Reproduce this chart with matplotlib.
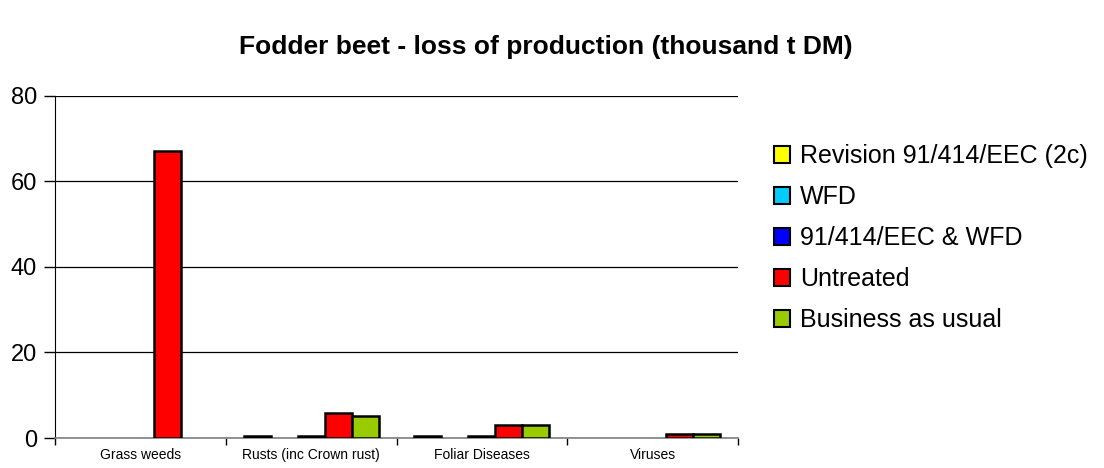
import matplotlib.pyplot as plt
import numpy as np
from matplotlib.patches import Patch

plt.rcParams["font.family"] = ["Liberation Sans", "DejaVu Sans"]

categories = ["Grass weeds", "Rusts (inc Crown rust)", "Foliar Diseases", "Viruses"]
series_names = [
    "Revision 91/414/EEC (2c)",
    "WFD",
    "91/414/EEC & WFD",
    "Untreated",
    "Business as usual",
]
series_colors = ["#FFFF00", "#00CCFF", "#0000FF", "#FF0000", "#99CC00"]

# thousand t DM lost, one list per scenario (nan = no value)
nan = np.nan
revision = [nan, 0.4, 0.4, nan]
wfd = [nan, nan, nan, nan]
eec_wfd = [nan, 0.4, 0.4, nan]
untreated = [67.2, 5.9, 3.0, 0.9]
business_as_usual = [nan, 5.1, 3.0, 0.9]
values = [revision, wfd, eec_wfd, untreated, business_as_usual]

fig = plt.figure(figsize=(11.04, 4.68), dpi=100)
ax = fig.add_axes([0.0498, 0.0641, 0.6187, 0.7308])

n_series = len(values)
bar_w = 1.0 / (n_series + 36 / 27)
x = np.arange(len(categories))
for i, (vals, color, name) in enumerate(zip(values, series_colors, series_names)):
    offs = (i - (n_series - 1) / 2) * bar_w
    ax.bar(x + offs, vals, bar_w, color=color, edgecolor="black",
           linewidth=1.8, label=name, zorder=3)

ax.set_xlim(-0.5, len(categories) - 0.5)
ax.set_ylim(0, 80)
ax.set_yticks([0, 20, 40, 60, 80])
ax.yaxis.grid(True, color="black", lw=0.9, zorder=0)
ax.set_axisbelow(True)

ax.set_xticks(x)
ax.set_xticklabels(categories, fontsize=10)
ax.set_xticks(np.arange(len(categories) + 1) - 0.5, minor=True)
ax.tick_params(axis="x", which="major", length=0, pad=7)
ax.tick_params(axis="x", which="minor", length=5, width=1, color="black")
ax.tick_params(axis="y", labelsize=17, length=8, width=1, pad=5)

for side in ("top", "right"):
    ax.spines[side].set_visible(False)
ax.spines["left"].set_color("black")
ax.spines["bottom"].set_color("#808080")
ax.spines["bottom"].set_linewidth(1.2)

fig.suptitle("Fodder beet - loss of production (thousand t DM)",
             x=0.494, y=0.925, fontsize=19, fontweight="bold")

handles = [Patch(facecolor=c, edgecolor="black", linewidth=1.5) for c in series_colors]
fig.legend(handles, series_names, loc="center left",
           bbox_to_anchor=(0.690, 0.491), frameon=False, fontsize=18,
           handlelength=0.62, handleheight=0.62, handletextpad=0.4,
           labelspacing=0.68, borderpad=0)

fig.savefig("out.png", dpi=100)
